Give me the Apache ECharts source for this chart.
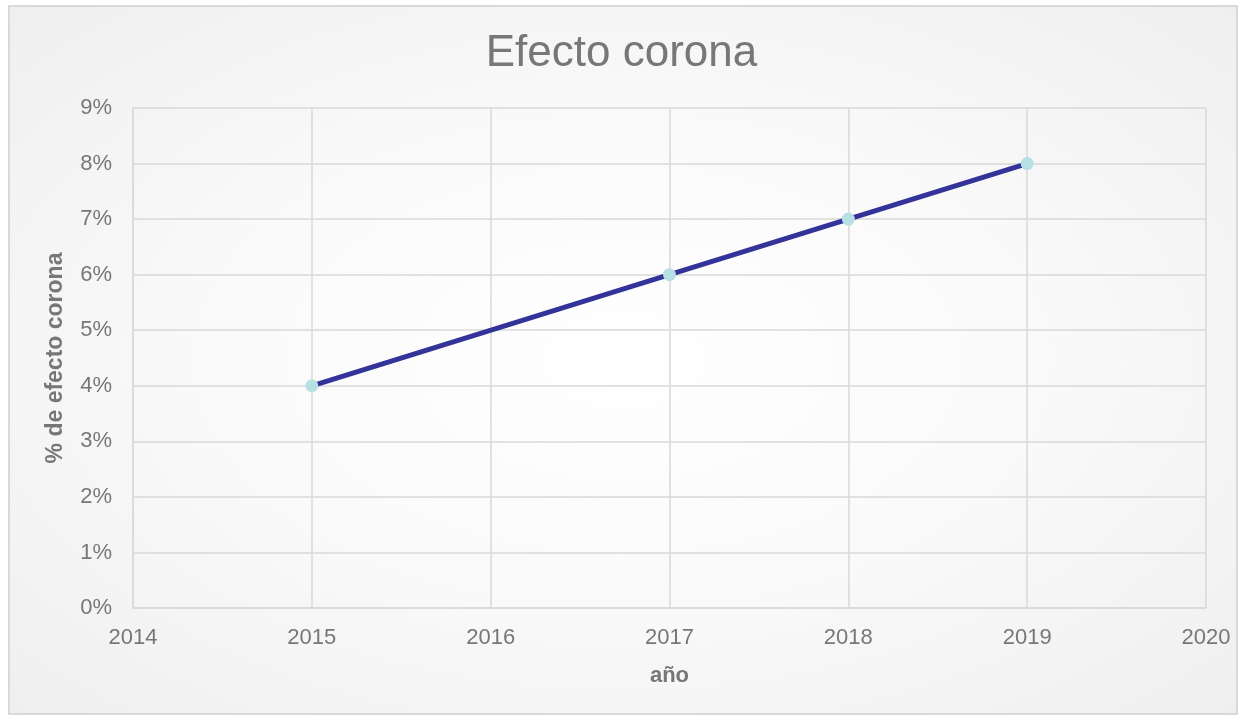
<!DOCTYPE html>
<html>
<head>
<meta charset="utf-8">
<script src="https://cdn.jsdelivr.net/npm/echarts@6/dist/echarts.min.js"></script>
<style>
  html, body { margin: 0; padding: 0; width: 1243px; height: 717px; background: #ffffff; overflow: hidden; }
  #frame {
    position: absolute; left: 8px; top: 5px; width: 1226px; height: 706px;
    border: 2px solid #d9d9d9;
    background: radial-gradient(ellipse at center, #ffffff 0%, #fafafa 45%, #efefef 100%);
  }
  #chart { position: absolute; left: 0; top: 0; width: 1243px; height: 717px; }
</style>
</head>
<body>
<div id="frame"></div>
<div id="chart"></div>
<script>
// Años y porcentaje de efecto corona
const years = [2015, 2017, 2018, 2019];
const effectPct = [4, 6, 7, 8];
const xMin = 2014, xMax = 2020;
const yMin = 0, yMax = 9;

const chart = echarts.init(document.getElementById('chart'), null, { renderer: 'canvas' });
const font = 'Liberation Sans, Arial, sans-serif';
const textGray = '#777777';
const gridLine = { lineStyle: { color: '#d9d9d9', width: 1.5 } };

chart.setOption({
  backgroundColor: 'transparent',
  animation: false,
  title: {
    text: 'Efecto corona',
    left: 'center',
    top: 27,
    textStyle: { fontFamily: font, fontSize: 44, fontWeight: 'normal', color: textGray }
  },
  grid: { left: 133, right: 37, top: 108, bottom: 109, containLabel: false },
  xAxis: {
    type: 'value',
    min: xMin, max: xMax, interval: 1,
    name: 'año',
    nameLocation: 'middle',
    nameGap: 57,
    nameTextStyle: { fontFamily: font, fontSize: 22, fontWeight: 'bold', color: textGray },
    axisLine: { show: true, lineStyle: { color: '#d9d9d9', width: 1.5 } },
    axisTick: { show: false },
    splitLine: { show: true, ...gridLine },
    axisLabel: { fontFamily: font, fontSize: 22, color: textGray, margin: 19, formatter: v => String(v) }
  },
  yAxis: {
    type: 'value',
    min: yMin, max: yMax, interval: 1,
    name: '% de efecto corona',
    nameLocation: 'middle',
    nameGap: 66,
    nameRotate: 90,
    nameTextStyle: { fontFamily: font, fontSize: 23, fontWeight: 'bold', color: textGray },
    axisLine: { show: true, lineStyle: { color: '#d9d9d9', width: 1.5 } },
    axisTick: { show: false },
    splitLine: { show: true, ...gridLine },
    axisLabel: { fontFamily: font, fontSize: 22, color: textGray, margin: 21, formatter: v => v + '%' }
  },
  series: [{
    type: 'line',
    data: years.map((y, i) => [y, effectPct[i]]),
    lineStyle: { color: '#333399', width: 5 },
    itemStyle: { color: '#b7e0e4' },
    symbol: 'circle',
    symbolSize: 13,
    z: 3
  }]
});
</script>
</body>
</html>
